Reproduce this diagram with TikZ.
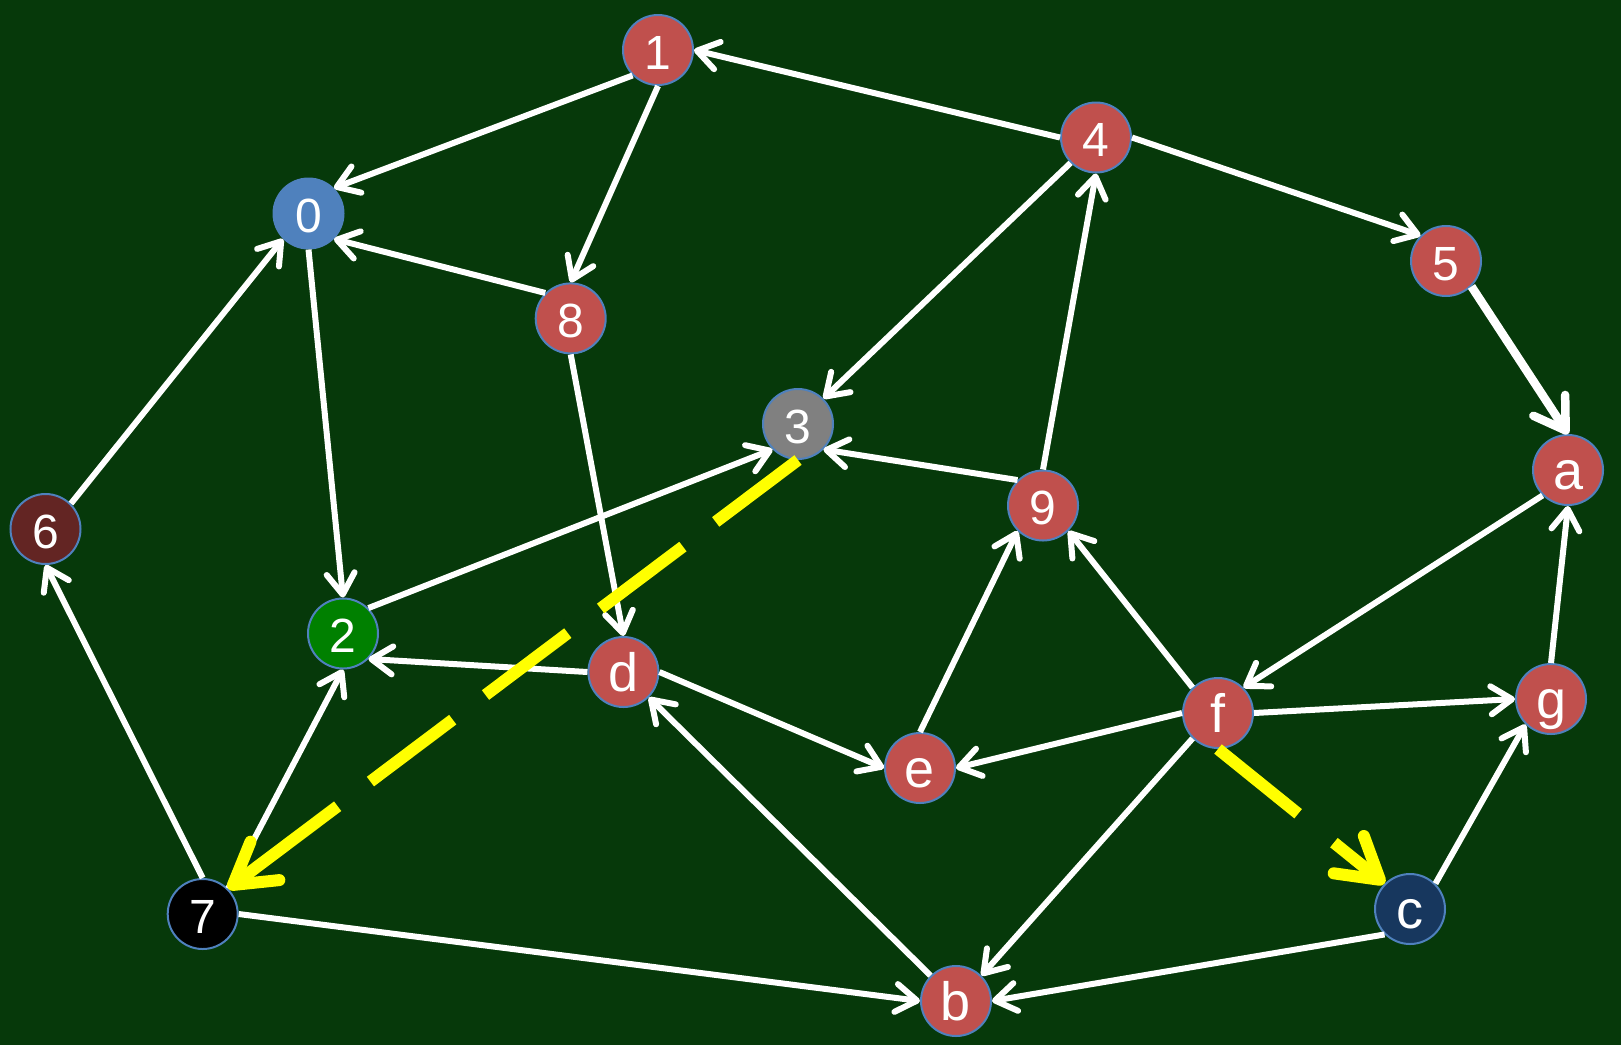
\documentclass[tikz,border=0pt]{standalone}
\usepackage{fontspec}
\setmainfont{Liberation Sans}
\usetikzlibrary{arrows.meta}
\definecolor{bg}{RGB}{6,57,10}
\definecolor{nodered}{HTML}{C0504D}
\definecolor{nodeblue}{HTML}{4F81BD}
\definecolor{nodegray}{HTML}{808080}
\definecolor{nodebrown}{HTML}{632523}
\definecolor{nodegreen}{HTML}{008000}
\definecolor{nodenavy}{HTML}{17375E}
\definecolor{yel}{RGB}{255,255,0}
\begin{document}
\begin{tikzpicture}[x=1pt,y=-1pt,
  vtx/.style={circle, minimum size=70pt, inner sep=0pt, draw=nodeblue, line width=2pt,
    fill=nodered, text=white, font=\fontsize{48}{48}\selectfont, text height=38pt, text depth=0pt},
  lvtx/.style={vtx, font=\fontsize{54}{54}\selectfont},
  edge/.style={draw=white, line width=6pt, -{Straight Barb[length=21pt,width=28pt,round]}},
  thickedge/.style={draw=white, line width=8.5pt, -{Straight Barb[length=30pt,width=38pt,round]}},
  yedge/.style={draw=yel, line width=12pt, -{Straight Barb[length=40pt,width=48pt,round]}}
]
\fill[bg] (0,0) rectangle (1621,1045);
\useasboundingbox (0,0) rectangle (1621,1045);

\node[vtx] (n1) at (658,50) {1};
\node[vtx, fill=nodeblue] (n0) at (308.5,213.5) {0};
\node[vtx] (n4) at (1096,137.5) {4};
\node[vtx] (n5) at (1446,261) {5};
\node[vtx] (n8) at (570.7,318.4) {8};
\node[vtx, fill=nodegray] (n3) at (798,424) {3};
\node[lvtx] (na) at (1568,470) {a};
\node[vtx] (n9) at (1043,505.5) {9};
\node[vtx, fill=nodebrown] (n6) at (45.5,529) {6};
\node[vtx, fill=nodegreen] (n2) at (343,633.5) {2};
\node[lvtx] (nd) at (623.4,672) {d};
\node[lvtx] (nf) at (1218,713) {f};
\node[lvtx] (ng) at (1551,699) {g};
\node[lvtx] (ne) at (920,768) {e};
\node[vtx, fill=black] (n7) at (202.7,914) {7};
\node[lvtx, fill=nodenavy] (nc) at (1410,909) {c};
\node[lvtx] (nb) at (956,1001) {b};

\draw[edge] (n1.south west) -- (n0.north east);
\draw[edge] (n1.south) -- (n8.north);
\draw[edge] (n4.west) -- (n1.east);
\draw[edge] (n4.east) -- (n5.north west);
\draw[edge] (n4.south west) -- (n3.north east);
\draw[edge] (n9.north) -- (n4.south);
\draw[thickedge] (n5.south east) -- (na.north);
\draw[edge] (n8.north west) -- (n0.south east);
\draw[edge] (n8.south) -- (nd.north);
\draw[edge] (n0.south) -- (n2.north);
\draw[edge] (n6.north east) -- (n0.south west);
\draw[edge] (n7.north) -- (n6.south);
\draw[edge] (n7.north east) -- (n2.south);
\draw[edge] (n2.north east) -- (n3.south west);
\draw[edge] (n9.north west) -- (n3.south east);
\draw[edge] (nd.west) -- (n2.south east);
\draw[edge] (nd.east) -- (ne.west);
\draw[edge] (nb.north west) -- (nd.south east);
\draw[edge] (ne.north) -- (n9.south west);
\draw[edge] (nf.north west) -- (n9.south east);
\draw[edge] (na.south west) -- (nf.north east);
\draw[edge] (nf.east) -- (ng.west);
\draw[edge] (nf.west) -- (ne.east);
\draw[edge] (nf.south west) -- (nb.north east);
\draw[edge] (ng.north) -- (na.south);
\draw[edge] (nc.north east) -- (ng.south west);
\draw[edge] (nc.south west) -- (nb.east);
\draw[edge] (n7.east) -- (nb.west);

\draw[yedge, dash pattern=on 103pt off 41pt on 103pt off 41pt on 103pt off 41pt on 103pt off 41pt on 400pt off 1pt]
  (n3.south) -- (n7.north east);
\draw[yedge, dash pattern=on 103pt off 46pt on 400pt off 1pt]
  (nf.south) -- (nc.north west);
\end{tikzpicture}
\end{document}
